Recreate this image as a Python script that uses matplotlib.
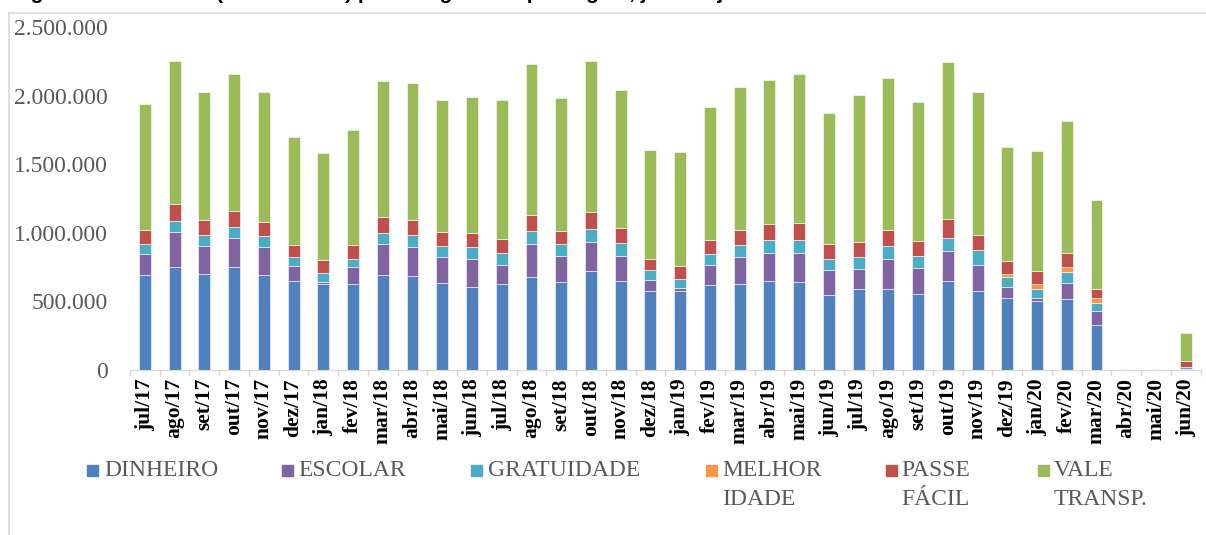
import matplotlib.pyplot as plt
import numpy as np
from matplotlib.lines import Line2D
from matplotlib.patches import Rectangle

meses = ['jul/17', 'ago/17', 'set/17', 'out/17', 'nov/17', 'dez/17',
         'jan/18', 'fev/18', 'mar/18', 'abr/18', 'mai/18', 'jun/18',
         'jul/18', 'ago/18', 'set/18', 'out/18', 'nov/18', 'dez/18',
         'jan/19', 'fev/19', 'mar/19', 'abr/19', 'mai/19', 'jun/19',
         'jul/19', 'ago/19', 'set/19', 'out/19', 'nov/19', 'dez/19',
         'jan/20', 'fev/20', 'mar/20', 'abr/20', 'mai/20', 'jun/20']

# valores em milhares de passageiros
dinheiro = [692, 753, 697, 748, 690, 646, 624, 624, 690, 683, 632, 605,
            624, 680, 639, 722, 646, 573, 576, 619, 624, 646, 639, 547,
            588, 590, 552, 648, 576, 523, 503, 520, 326, 2, 2, 6]
escolar = [153, 250, 209, 216, 204, 114, 20, 124, 226, 216, 194, 206,
           144, 238, 190, 209, 187, 85, 19, 144, 197, 204, 214, 180,
           146, 217, 191, 216, 190, 80, 22, 113, 105, 0, 0, 2]
gratuidade = [71, 85, 78, 80, 80, 66, 61, 63, 85, 83, 76, 85,
              82, 93, 87, 97, 93, 71, 68, 82, 90, 95, 97, 84,
              87, 94, 89, 101, 108, 72, 66, 81, 59, 1, 1, 11]
melhor_idade = [0, 0, 0, 0, 0, 0, 0, 0, 0, 0, 0, 0,
                0, 0, 0, 0, 0, 0, 0, 0, 0, 0, 0, 0,
                0, 0, 0, 0, 0, 27, 35, 40, 33, 0, 0, 0]
passe_facil = [107, 124, 109, 117, 107, 87, 95, 100, 112, 111, 106, 105,
               107, 116, 99, 121, 111, 82, 95, 105, 112, 119, 124, 107,
               114, 119, 110, 133, 113, 96, 96, 98, 64, 1, 1, 47]
vale_transp = [916, 1040, 933, 996, 943, 783, 779, 838, 996, 999, 960, 989,
               1011, 1103, 965, 1103, 1004, 792, 828, 965, 1037, 1052, 1086, 955,
               1072, 1106, 1011, 1144, 1039, 825, 876, 963, 651, 4, 4, 206]

series = [('DINHEIRO', dinheiro, '#4F81BD'),
          ('ESCOLAR', escolar, '#8064A2'),
          ('GRATUIDADE', gratuidade, '#4BACC6'),
          ('MELHOR\nIDADE', melhor_idade, '#F79646'),
          ('PASSE\nFÁCIL', passe_facil, '#C0504D'),
          ('VALE\nTRANSP.', vale_transp, '#9BBB59')]

W, H = 1206, 535
fig = plt.figure(figsize=(W / 100, H / 100), dpi=100)
ax = fig.add_axes([130 / W, (H - 370) / H, 1070.6 / W, 343 / H])

x = np.arange(len(meses))
base = np.zeros(len(meses))
for nome, vals, cor in series:
    v = np.array(vals) * 1000.0
    ax.bar(x, v, 0.4, bottom=base, color=cor, edgecolor='white', linewidth=0.4)
    base += v

ax.set_xlim(-0.5, len(meses) - 0.5)
ax.set_ylim(0, 2500000)
ax.set_yticks(np.arange(0, 2500001, 500000))
ax.set_yticklabels(['0' if t == 0 else f'{t:,.0f}'.replace(',', '.')
                    for t in np.arange(0, 2500001, 500000)],
                   family='Liberation Serif', fontsize=17, color='#595959')
ax.tick_params(axis='y', length=0, pad=15.8)

ax.set_xticks(x)
ax.set_xticklabels(meses, rotation=90, family='Liberation Serif',
                   fontweight='bold', fontsize=15.5, color='black')
ax.set_xticks(np.arange(-0.5, len(meses), 1), minor=True)
ax.tick_params(axis='x', which='major', length=0, pad=5.8)
ax.tick_params(axis='x', which='minor', length=4.5, color='#d9d9d9', width=1)

for s in ['top', 'right', 'left']:
    ax.spines[s].set_visible(False)
ax.spines['bottom'].set_color('#d9d9d9')

# legenda (cada linha do rótulo em separado)
leg_marker_x = [87, 282, 471, 706, 886, 1038]
leg_text_x = [104, 298, 488, 722, 901, 1054]
for (nome, vals, cor), mx, tx in zip(series, leg_marker_x, leg_text_x):
    fig.add_artist(Rectangle((mx / W, (H - 476) / H), 11 / W, 11 / H,
                             transform=fig.transFigure, color=cor))
    for i, linha in enumerate(nome.split('\n')):
        fig.text(tx / W, (H - 476.5 - 28.5 * i) / H, linha,
                 family='Liberation Serif', fontsize=17, color='#595959',
                 va='baseline', ha='left')

# moldura
fig.add_artist(Line2D([9 / W, 9 / W], [0, (H - 13) / H], color='#d9d9d9', lw=1.2))
fig.add_artist(Line2D([9 / W, 1], [(H - 13) / H, (H - 13) / H], color='#d9d9d9', lw=1.2))

# título (cortado no topo, só as hastes descendentes aparecem)
fig.text(12 / W, 1 + 1 / H,
         'Figura 3 – Demanda (total mensal) por categoria de passagem, jul/17 a jun/20',
         family='Liberation Sans', fontweight='bold', fontsize=15, va='baseline')

fig.savefig('out.png', dpi=100)
